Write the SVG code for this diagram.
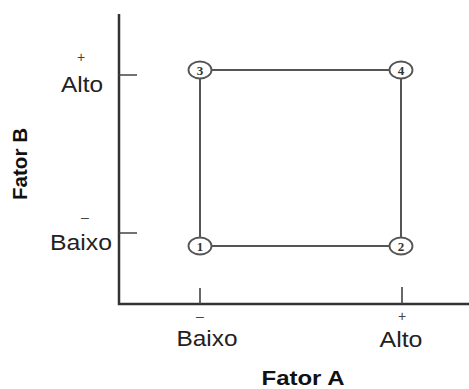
<svg xmlns="http://www.w3.org/2000/svg" width="469" height="389" viewBox="0 0 469 389">
<style>
.lbl{font-family:"Liberation Sans",Arial,sans-serif;font-size:22px;fill:#222;text-anchor:middle}
.sgn{font-family:"Liberation Sans",Arial,sans-serif;font-size:14px;fill:#444;text-anchor:middle}
.ttl{font-family:"Liberation Sans",Arial,sans-serif;font-size:21px;font-weight:bold;fill:#111;text-anchor:middle}
.num{font-family:"Liberation Serif","Times New Roman",serif;font-size:13px;font-weight:bold;fill:#333;text-anchor:middle}
.axis{stroke:#333;stroke-width:2.5;fill:none}
.tick{stroke:#444;stroke-width:1.6;fill:none}
.edge{stroke:#555;stroke-width:2;fill:none}
.node ellipse{fill:#fff;stroke:#555;stroke-width:1.8}
</style>
<rect width="469" height="389" fill="#fff"/>
<g id="axes">
<path class="axis" d="M119,14 V304 H469"/>
<path class="tick" d="M119,75 H137 M119,233 H137 M200,288 V304 M402,287 V304"/>
</g>
<g id="axis-labels">
<text class="sgn" x="81" y="62">+</text>
<text class="lbl" x="82" y="92" textLength="42" lengthAdjust="spacingAndGlyphs">Alto</text>
<text class="sgn" x="85" y="222">–</text>
<text class="lbl" x="81" y="250" textLength="62" lengthAdjust="spacingAndGlyphs">Baixo</text>
<text class="sgn" x="200" y="321">–</text>
<text class="lbl" x="207" y="346" textLength="61" lengthAdjust="spacingAndGlyphs">Baixo</text>
<text class="sgn" x="402" y="321">+</text>
<text class="lbl" x="401" y="347" textLength="43" lengthAdjust="spacingAndGlyphs">Alto</text>
<text class="ttl" x="303" y="385" textLength="83" lengthAdjust="spacingAndGlyphs">Fator A</text>
<text class="ttl" transform="translate(27,164) rotate(-90)" x="0" y="0" textLength="72" lengthAdjust="spacingAndGlyphs">Fator B</text>
</g>
<g id="connectors">
<line class="edge" x1="212" y1="70" x2="389" y2="70"/>
<line class="edge" x1="212" y1="246" x2="389" y2="246"/>
<line class="edge" x1="200" y1="78" x2="200" y2="238"/>
<line class="edge" x1="401" y1="79" x2="401" y2="238"/>
</g>
<g id="node3" class="node"><ellipse cx="200" cy="70" rx="11.5" ry="8.5"/><text class="num" x="200" y="74.5">3</text></g>
<g id="node4" class="node"><ellipse cx="401" cy="70" rx="11.5" ry="8.5"/><text class="num" x="401" y="74.5">4</text></g>
<g id="node1" class="node"><ellipse cx="200" cy="246" rx="11.5" ry="8.5"/><text class="num" x="200" y="250.5">1</text></g>
<g id="node2" class="node"><ellipse cx="401" cy="246" rx="11.5" ry="8.5"/><text class="num" x="401" y="250.5">2</text></g>
</svg>
